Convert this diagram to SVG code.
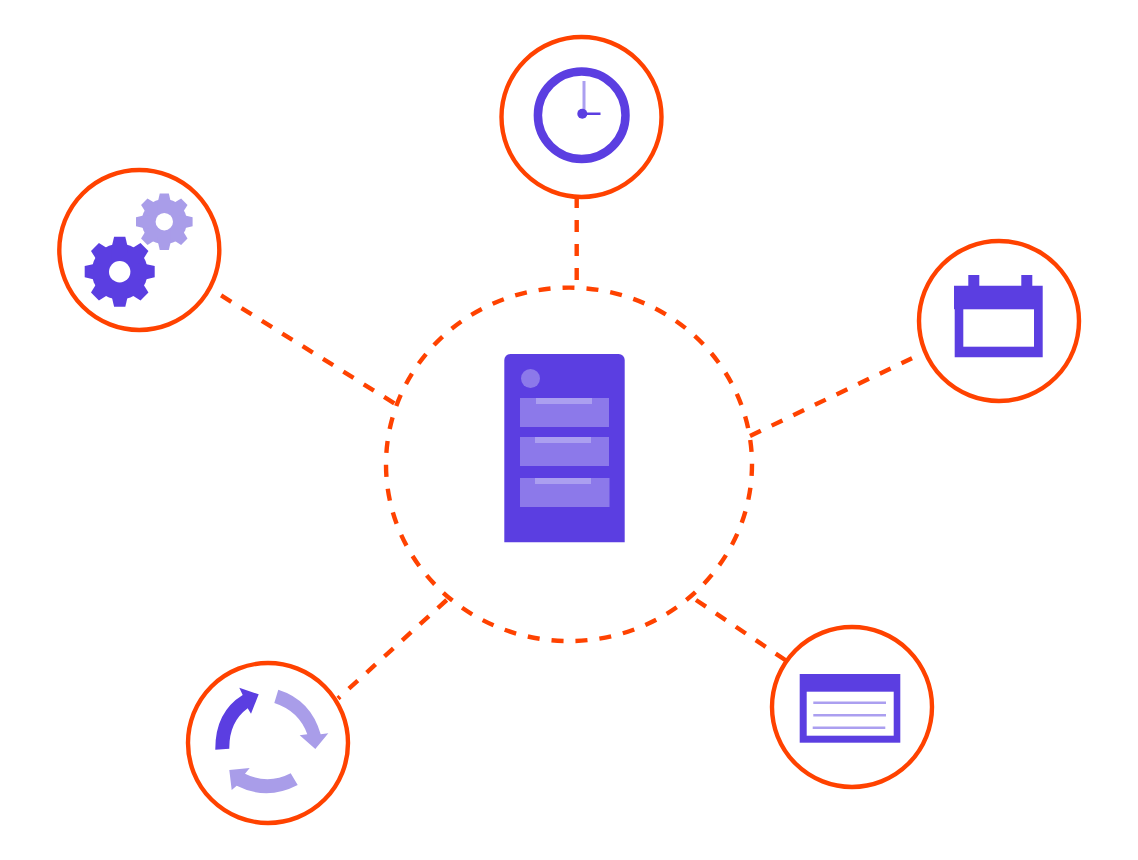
<svg xmlns="http://www.w3.org/2000/svg" width="1138" height="860" viewBox="0 0 1138 860">
<style>
.ring{fill:#fff;stroke:#ff4200;stroke-width:4.400}
.dash{fill:none;stroke:#ff4200;stroke-width:4.400;stroke-dasharray:12 12}
.d{fill:#5b3ee1}
.l{fill:#a99de9}
.m{fill:#8c79ea}
.t{fill:#ab9ff0}
.w{fill:#fff}
.ln{stroke:#ab9ff0;stroke-width:2.400;fill:none}
</style>
<defs>
<g id="gear">
<circle r="0.8"/>
<polygon id="bar" points="-1,-.16 -.7,-.23 .7,-.23 1,-.16 1,.16 .7,.23 -.7,.23 -1,.16"/>
<use href="#bar" transform="rotate(45)"/>
<use href="#bar" transform="rotate(90)"/>
<use href="#bar" transform="rotate(135)"/>
</g>
</defs>
<rect width="1138" height="860" fill="#fff"/>
<g id="connectors">
<path class="dash" d="M576.700 280V196"/>
<path class="dash" d="M394.300 403.300L218 293.500"/>
<path class="dash" d="M750 436L912 358.200"/>
<path class="dash" d="M446.700 600L338 698.500"/>
<path class="dash" d="M696 600L786 660.500"/>
</g>
<g id="hub">
<ellipse class="dash" cx="569" cy="464.350" rx="183" ry="176.700" pathLength="1128" stroke-dashoffset="0.500"/>
<path class="d" d="M504.300 542.300V360a6 6 0 0 1 6-6H618.700a6 6 0 0 1 6 6V542.300Z"/>
<circle class="m" cx="530.500" cy="378.500" r="9.500"/>
<rect class="m" x="520" y="398" width="89" height="29"/>
<rect class="t" x="536" y="398" width="56" height="6"/>
<rect class="m" x="520" y="437" width="89" height="29"/>
<rect class="t" x="535" y="437" width="56" height="6"/>
<rect class="m" x="520" y="478" width="89.500" height="29"/>
<rect class="t" x="535" y="478" width="56" height="6"/>
</g>
<g id="clock">
<circle class="ring" cx="581.500" cy="117" r="80"/>
<circle cx="581.700" cy="115.300" r="43.800" fill="none" stroke="#5b3ee1" stroke-width="8.500"/>
<rect class="t" x="582.500" y="81" width="3" height="32"/>
<rect class="d" x="582" y="112.500" width="18.500" height="2.500"/>
<circle class="d" cx="582.300" cy="113.700" r="5"/>
</g>
<g id="gears">
<circle class="ring" cx="139.300" cy="250" r="80"/>
<use href="#gear" class="l" transform="translate(164.300 221.700) scale(28.300)"/>
<circle class="w" cx="164.300" cy="221.700" r="8.700"/>
<use href="#gear" class="d" transform="translate(119.700 271.700) scale(35)"/>
<circle class="w" cx="119.700" cy="271.700" r="10.700"/>
</g>
<g id="calendar">
<circle class="ring" cx="999" cy="321" r="80"/>
<path class="d" d="M968.300 275H979.300V285.700H1021.300V275H1032.300V285.700H1042.700V357.300H954.700V309.300H954V285.700H968.300Z"/>
<rect class="w" x="963.300" y="309.300" width="70.700" height="37.400"/>
</g>
<g id="window">
<circle class="ring" cx="852" cy="707" r="80"/>
<rect class="d" x="799.700" y="674" width="100.600" height="68.700"/>
<rect class="w" x="806.700" y="691.700" width="87" height="44"/>
<path class="ln" d="M813.300 702.700H886M813.300 715.300H886M812.700 727.700H885.300"/>
</g>
<g id="cycle">
<circle class="ring" cx="268" cy="743" r="80"/>
<path class="d" d="M215.300 749.700Q215 712 242.700 695L239.300 687.700L258.700 694.300L251 713.700L247.700 708.300Q229 722 229.300 748.700Z"/>
<path class="l" d="M278.300 689.700Q311 700 320.700 734.300L328.300 733.300L315.300 749L299.700 735.300L307.300 734.300Q299 711 274.300 703Z"/>
<path class="l" d="M290.700 773.300Q268 785 245 773.700L249.700 768L229.300 770L231.700 790L236.700 785.700Q267 801 297.700 785Z"/>
</g>
</svg>
